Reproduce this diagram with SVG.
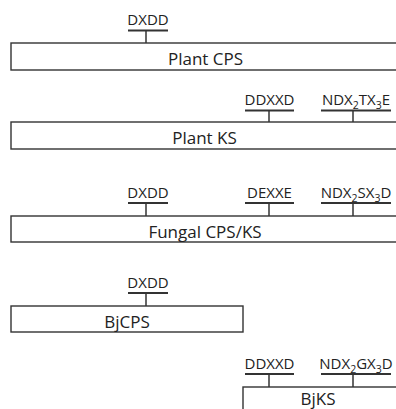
<svg xmlns="http://www.w3.org/2000/svg" width="396" height="409" viewBox="0 0 396 409">
<style>
.box{fill:#fff;stroke:#333;stroke-width:1.4}
.bar{stroke:#333;stroke-width:1.8;fill:none}
.stem{stroke:#333;stroke-width:1.5;fill:none}
.lbl{font-family:"Open Sans","Liberation Sans",Arial,sans-serif;font-size:15px;fill:#222;text-anchor:middle}
.name{font-family:"Open Sans","Liberation Sans",Arial,sans-serif;font-size:17px;fill:#222;text-anchor:middle}
.sub{font-size:10.5px}
</style>
<rect width="396" height="409" fill="#fff"/>
<g id="plant-cps">
  <rect class="box" x="11" y="43" width="400" height="27"/>
  <text class="name" x="205.5" y="65">Plant CPS</text>
  <text class="lbl" x="148" y="25">DXDD</text>
  <line class="bar" x1="128" y1="30.5" x2="168" y2="30.5"/>
</g>
<g id="plant-ks">
  <rect class="box" x="11" y="122" width="400" height="27"/>
  <text class="name" x="204.5" y="144">Plant KS</text>
  <text class="lbl" x="269.5" y="105">DDXXD</text>
  <line class="bar" x1="245" y1="110.5" x2="294" y2="110.5"/>
  <text class="lbl" x="356" y="105">NDX<tspan class="sub" dy="4">2</tspan><tspan dy="-4">TX</tspan><tspan class="sub" dy="4">3</tspan><tspan dy="-4">E</tspan></text>
  <line class="bar" x1="321" y1="110.5" x2="391" y2="110.5"/>
</g>
<g id="fungal-cps-ks">
  <rect class="box" x="11" y="216" width="400" height="26"/>
  <text class="name" x="205" y="237.5">Fungal CPS/KS</text>
  <text class="lbl" x="148" y="197.5">DXDD</text>
  <line class="bar" x1="128" y1="203" x2="168" y2="203"/>
  <text class="lbl" x="269.5" y="197.5">DEXXE</text>
  <line class="bar" x1="245" y1="203" x2="294" y2="203"/>
  <text class="lbl" x="356" y="197.5">NDX<tspan class="sub" dy="4">2</tspan><tspan dy="-4">SX</tspan><tspan class="sub" dy="4">3</tspan><tspan dy="-4">D</tspan></text>
  <line class="bar" x1="321" y1="203" x2="391" y2="203"/>
</g>
<g id="bjcps">
  <rect class="box" x="11" y="306" width="232" height="26"/>
  <text class="name" x="127" y="327.5">BjCPS</text>
  <text class="lbl" x="148" y="287.5">DXDD</text>
  <line class="bar" x1="128" y1="293" x2="168" y2="293"/>
</g>
<g id="bjks">
  <rect class="box" x="243" y="387" width="200" height="40"/>
  <text class="name" x="318" y="404.5">BjKS</text>
  <text class="lbl" x="269.5" y="368.5">DDXXD</text>
  <line class="bar" x1="245" y1="374" x2="294" y2="374"/>
  <text class="lbl" x="356" y="368.5">NDX<tspan class="sub" dy="4">2</tspan><tspan dy="-4">GX</tspan><tspan class="sub" dy="4">3</tspan><tspan dy="-4">D</tspan></text>
  <line class="bar" x1="321" y1="374" x2="391" y2="374"/>
</g>
<g id="connectors">
  <line class="stem" x1="146" y1="30.5" x2="146" y2="43"/>
  <line class="stem" x1="269" y1="110.5" x2="269" y2="122"/>
  <line class="stem" x1="353" y1="110.5" x2="353" y2="122"/>
  <line class="stem" x1="146" y1="203" x2="146" y2="216"/>
  <line class="stem" x1="269" y1="203" x2="269" y2="216"/>
  <line class="stem" x1="353" y1="203" x2="353" y2="216"/>
  <line class="stem" x1="146" y1="293" x2="146" y2="306"/>
  <line class="stem" x1="269" y1="374" x2="269" y2="387"/>
  <line class="stem" x1="353" y1="374" x2="353" y2="387"/>
</g>
</svg>
